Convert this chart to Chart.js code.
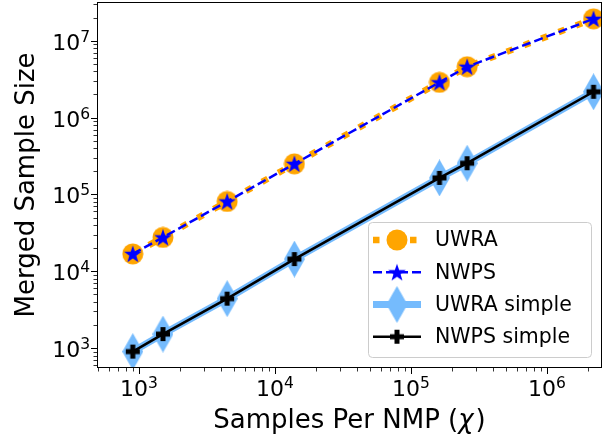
<!DOCTYPE html>
<html>
<head>
<meta charset="utf-8">
<script src="https://cdn.jsdelivr.net/npm/chart.js@4.4.0/dist/chart.umd.min.js"></script>
<style>
  html, body { margin: 0; padding: 0; background: #fff; }
  canvas { display: block; }
</style>
</head>
<body>
<canvas id="chart" width="607" height="441"></canvas>
<script>
// data (log-log)
const samplesPerNmp = [900, 1500, 4450, 13900, 162000, 259000, 2200000];
const uwra = [16800, 27600, 81000, 250000, 2880000, 4600000, 19300000];
const nwps = [16800, 27600, 81000, 250000, 2880000, 4600000, 19300000];
const uwraSimple = [900, 1520, 4400, 14400, 164000, 255000, 2170000];
const nwpsSimple = [900, 1520, 4400, 14400, 164000, 255000, 2170000];
const seriesNames = ['UWRA', 'NWPS', 'UWRA simple', 'NWPS simple'];

// tick labels
const xTicks = [1e3, 1e4, 1e5, 1e6];
const xTickLabels = ['10^3', '10^4', '10^5', '10^6'];
const yTicks = [1e3, 1e4, 1e5, 1e6, 1e7];
const yTickLabels = ['10^3', '10^4', '10^5', '10^6', '10^7'];

const FONT = "'DejaVu Sans', sans-serif";

// marker images (matplotlib style markers)
function makeMarker(w, h, draw) {
    const c = document.createElement('canvas');
    c.width = w;
    c.height = h;
    draw(c.getContext('2d'), w, h);
    return c;
}

const circleImg = makeMarker(22, 22, g => {
    g.fillStyle = '#ffa500';
    g.beginPath();
    g.arc(11, 11, 10.5, 0, Math.PI * 2);
    g.fill();
});

const starImg = makeMarker(20, 20, g => {
    g.fillStyle = '#0000ff';
    g.beginPath();
    for (let i = 0; i < 10; i++) {
        const r = i % 2 === 0 ? 9.3 : 3.7;
        const a = -Math.PI / 2 + i * Math.PI / 5;
        const px = 10 + r * Math.cos(a), py = 10.7 + r * Math.sin(a);
        if (i === 0) g.moveTo(px, py); else g.lineTo(px, py);
    }
    g.closePath();
    g.fill();
});

const diamondImg = makeMarker(21, 37, g => {
    g.fillStyle = '#75bbfd';
    g.beginPath();
    g.moveTo(10.5, 0);
    g.lineTo(21, 18.5);
    g.lineTo(10.5, 37);
    g.lineTo(0, 18.5);
    g.closePath();
    g.fill();
});

const plusImg = makeMarker(16, 16, g => {
    g.fillStyle = '#000';
    g.fillRect(5.5, 1, 5, 14);
    g.fillRect(1, 5.5, 14, 5);
});

const pts = ys => samplesPerNmp.map((x, i) => ({ x: x, y: ys[i] }));

const styles = [
    { color: '#ffa500', width: 6.5, dash: [6.5, 12], marker: circleImg, order: 4 },
    { color: '#0000ff', width: 2.5, dash: [9, 4], marker: starImg, order: 3 },
    { color: '#75bbfd', width: 7, dash: [], marker: diamondImg, order: 2 },
    { color: '#000000', width: 2.5, dash: [], marker: plusImg, order: 1 }
];
const seriesData = [uwra, nwps, uwraSimple, nwpsSimple];

// axes decorations, labels and legend drawn matplotlib-like
const decorations = {
    id: 'decorations',
    afterDraw(chart) {
        const ctx = chart.ctx;
        const a = chart.chartArea;
        const xs = chart.scales.x, ys = chart.scales.y;
        ctx.save();

        // frame
        ctx.strokeStyle = '#000';
        ctx.lineWidth = 1;
        ctx.strokeRect(a.left + 0.5, a.top + 0.5, a.right - a.left - 1, a.bottom - a.top - 1);

        // tick marks
        function minorValues(min, max) {
            const out = [];
            for (let e = Math.floor(Math.log10(min)); e <= Math.ceil(Math.log10(max)); e++) {
                for (let m = 1; m <= 9; m++) {
                    const v = m * Math.pow(10, e);
                    if (v >= min && v <= max) out.push({ v: v, major: m === 1 });
                }
            }
            return out;
        }
        minorValues(xs.min, xs.max).forEach(t => {
            const px = Math.round(xs.getPixelForValue(t.v)) + 0.5;
            ctx.lineWidth = t.major ? 1 : 0.8;
            ctx.beginPath();
            ctx.moveTo(px, a.bottom);
            ctx.lineTo(px, a.bottom + (t.major ? 6 : 3.5));
            ctx.stroke();
        });
        minorValues(ys.min, ys.max).forEach(t => {
            const py = Math.round(ys.getPixelForValue(t.v)) + 0.5;
            ctx.lineWidth = t.major ? 1 : 0.8;
            ctx.beginPath();
            ctx.moveTo(a.left, py);
            ctx.lineTo(a.left - (t.major ? 6 : 3.5), py);
            ctx.stroke();
        });

        // tick labels with superscript exponents
        ctx.fillStyle = '#000';
        ctx.textBaseline = 'alphabetic';
        ctx.textAlign = 'left';
        function powerLabel(label) {
            const parts = label.split('^');
            ctx.font = '22px ' + FONT;
            const w1 = ctx.measureText(parts[0]).width;
            ctx.font = '15.5px ' + FONT;
            const w2 = ctx.measureText(parts[1]).width;
            return { base: parts[0], exp: parts[1], w1: w1, w2: w2 };
        }
        function drawPower(p, x, baseline) {
            ctx.font = '22px ' + FONT;
            ctx.fillText(p.base, x, baseline);
            ctx.font = '15.5px ' + FONT;
            ctx.fillText(p.exp, x + p.w1, baseline - 8);
        }
        xTicks.forEach((v, i) => {
            const p = powerLabel(xTickLabels[i]);
            const px = xs.getPixelForValue(v);
            drawPower(p, px - (p.w1 + p.w2) / 2, a.bottom + 28);
        });
        yTicks.forEach((v, i) => {
            const p = powerLabel(yTickLabels[i]);
            const py = ys.getPixelForValue(v);
            drawPower(p, a.left - 7 - (p.w1 + p.w2), py + 9);
        });

        // axis titles
        const cx = (a.left + a.right) / 2;
        const t1 = 'Samples Per NMP (', t2 = '\u03c7', t3 = ')';
        ctx.font = '26px ' + FONT;
        const w1 = ctx.measureText(t1).width, w3 = ctx.measureText(t3).width;
        ctx.font = 'italic 26px ' + FONT;
        const w2 = ctx.measureText(t2).width + 2;
        let tx = cx - (w1 + w2 + w3) / 2;
        ctx.font = '26px ' + FONT;
        ctx.fillText(t1, tx, 428);
        ctx.font = 'italic 26px ' + FONT;
        ctx.fillText(t2, tx + w1, 428);
        ctx.font = '26px ' + FONT;
        ctx.fillText(t3, tx + w1 + w2, 428);

        ctx.save();
        ctx.translate(34, (a.top + a.bottom) / 2);
        ctx.rotate(-Math.PI / 2);
        ctx.textAlign = 'center';
        ctx.fillText('Merged Sample Size', 0, 0);
        ctx.restore();

        // legend
        const lx = 368.5, ly = 222.5, lw = 223, lh = 135;
        ctx.beginPath();
        ctx.roundRect(lx, ly, lw, lh, 4);
        ctx.fillStyle = 'rgba(255,255,255,0.8)';
        ctx.fill();
        ctx.strokeStyle = '#cccccc';
        ctx.lineWidth = 1;
        ctx.stroke();

        const rows = [240, 272.3, 304.5, 336.7];
        seriesNames.forEach((name, i) => {
            const s = styles[i];
            const y = rows[i];
            ctx.save();
            ctx.strokeStyle = s.color;
            ctx.lineWidth = s.width;
            ctx.lineCap = 'butt';
            ctx.setLineDash(s.dash);
            ctx.beginPath();
            ctx.moveTo(373, y);
            ctx.lineTo(421, y);
            ctx.stroke();
            ctx.restore();
            ctx.drawImage(s.marker, 397 - s.marker.width / 2, y - s.marker.height / 2);
            ctx.fillStyle = '#000';
            ctx.font = '20.5px ' + FONT;
            ctx.textBaseline = 'middle';
            ctx.fillText(name, 435, y + 1);
        });

        ctx.restore();
    }
};

new Chart(document.getElementById('chart'), {
    type: 'line',
    data: {
        datasets: seriesNames.map((name, i) => ({
            label: name,
            data: pts(seriesData[i]),
            borderColor: styles[i].color,
            borderWidth: styles[i].width,
            borderDash: styles[i].dash,
            borderCapStyle: 'butt',
            borderJoinStyle: 'round',
            pointStyle: styles[i].marker,
            pointRadius: 8,
            fill: false,
            tension: 0,
            clip: 0,
            order: styles[i].order
        }))
    },
    options: {
        responsive: false,
        animation: false,
        devicePixelRatio: 1,
        layout: { autoPadding: false, padding: { top: 2, right: 5, left: 0, bottom: 0 } },
        plugins: { legend: { display: false }, tooltip: { enabled: false } },
        scales: {
            x: {
                type: 'logarithmic',
                min: 491,
                max: 2.54e6,
                grid: { display: false },
                border: { display: false },
                ticks: { display: false },
                afterFit: s => {
                    s.height = 73;
                    s.paddingLeft = s.paddingRight = s.paddingTop = s.paddingBottom = 0;
                }
            },
            y: {
                type: 'logarithmic',
                min: 550,
                max: 3.2e7,
                grid: { display: false },
                border: { display: false },
                ticks: { display: false },
                afterFit: s => {
                    s.width = 97;
                    s.paddingLeft = s.paddingRight = s.paddingTop = s.paddingBottom = 0;
                }
            }
        }
    },
    plugins: [decorations]
});
</script>
</body>
</html>
